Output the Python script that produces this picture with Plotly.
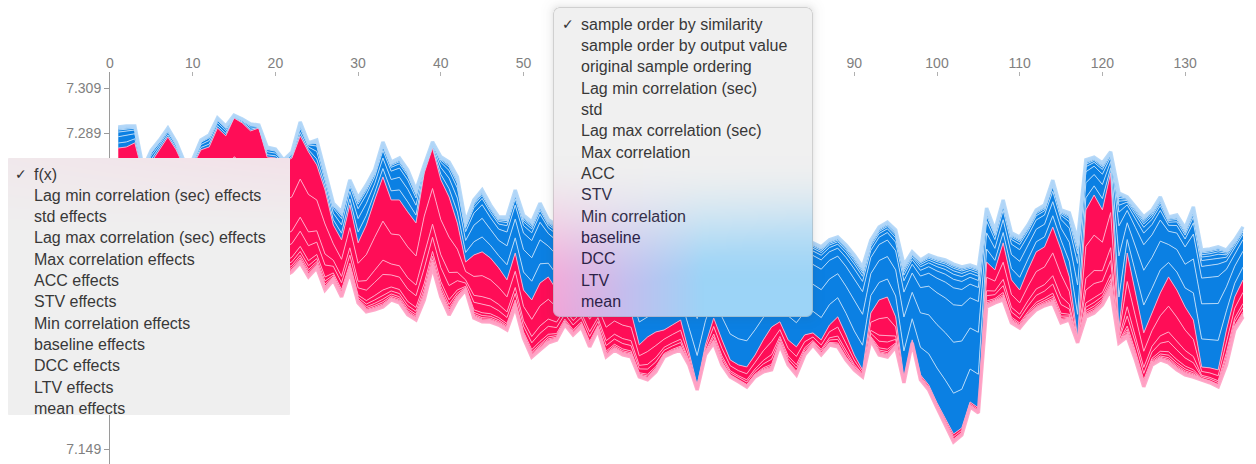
import base64
import struct
import zlib

import numpy as np
import plotly.graph_objects as go

# ---------------------------------------------------------------- data
# model output f(x) per sample, plus the summed negative (blue) and
# positive (red) SHAP effects that sit above / below it
samples = list(range(1, 138))

fx = [
    7.2824, 7.2829, 7.2847, 7.2705, 7.2762, 7.2816, 7.2873, 7.2816, 7.2736, 7.2745,
    7.2816, 7.2829, 7.2913, 7.2878, 7.2957, 7.2935, 7.2900, 7.2913, 7.2784, 7.2780,
    7.2758, 7.2780, 7.2878, 7.2807, 7.2749, 7.2638, 7.2483, 7.2417, 7.2572, 7.2404,
    7.2483, 7.2594, 7.2696, 7.2594, 7.2594, 7.2541, 7.2492, 7.2714, 7.2824, 7.2683,
    7.2607, 7.2492, 7.2319, 7.2350, 7.2364, 7.2337, 7.2293, 7.2240, 7.2359, 7.2195,
    7.2151, 7.2226, 7.2253, 7.2195, 7.2231, 7.2173, 7.2204, 7.2129, 7.2169, 7.2098,
    7.2124, 7.2107, 7.2098, 7.1952, 7.1987, 7.2009, 7.2018, 7.2040, 7.2062, 7.1921,
    7.1774, 7.1952, 7.2071, 7.1974, 7.1885, 7.1863, 7.1854, 7.1907, 7.1974, 7.2031,
    7.2054, 7.1974, 7.1943, 7.1996, 7.2005, 7.1974, 7.2040, 7.2076, 7.1996, 7.1907,
    7.1841, 7.2093, 7.2151, 7.2164, 7.2076, 7.1805, 7.1974, 7.1819, 7.1774, 7.1695,
    7.1628, 7.1557, 7.1584, 7.1699, 7.1673, 7.2319, 7.2284, 7.2404, 7.2240, 7.2195,
    7.2284, 7.2364, 7.2386, 7.2474, 7.2373, 7.2253, 7.1983, 7.2550, 7.2616, 7.2550,
    7.2714, 7.2018, 7.2359, 7.2182, 7.2005, 7.2093, 7.2182, 7.2253, 7.2195, 7.2120,
    7.2062, 7.1854, 7.1850, 7.1841, 7.2018, 7.2164, 7.2240,
]

neg_effects = [
    0.0093, 0.0093, 0.0075, 0.0031, 0.0053, 0.0044, 0.0040, 0.0035, 0.0027, 0.0027,
    0.0044, 0.0053, 0.0044, 0.0044, 0.0013, 0.0018, 0.0031, 0.0013, 0.0044, 0.0040,
    0.0013, 0.0027, 0.0062, 0.0040, 0.0111, 0.0075, 0.0097, 0.0124, 0.0111, 0.0199,
    0.0177, 0.0133, 0.0155, 0.0168, 0.0186, 0.0186, 0.0146, 0.0035, 0.0027, 0.0102,
    0.0155, 0.0204, 0.0177, 0.0244, 0.0275, 0.0235, 0.0226, 0.0279, 0.0279, 0.0332,
    0.0346, 0.0354, 0.0253, 0.0288, 0.0284, 0.0288, 0.0292, 0.0288, 0.0301, 0.0297,
    0.0301, 0.0292, 0.0310, 0.0421, 0.0363, 0.0372, 0.0372, 0.0377, 0.0390, 0.0452,
    0.0545, 0.0443, 0.0381, 0.0421, 0.0478, 0.0483, 0.0483, 0.0465, 0.0425, 0.0403,
    0.0399, 0.0443, 0.0447, 0.0421, 0.0399, 0.0412, 0.0377, 0.0354, 0.0399, 0.0443,
    0.0456, 0.0323, 0.0323, 0.0332, 0.0385, 0.0501, 0.0390, 0.0509, 0.0576, 0.0642,
    0.0700, 0.0753, 0.0713, 0.0607, 0.0620, 0.0239, 0.0177, 0.0190, 0.0208, 0.0235,
    0.0199, 0.0186, 0.0186, 0.0208, 0.0177, 0.0284, 0.0434, 0.0222, 0.0168, 0.0208,
    0.0093, 0.0607, 0.0248, 0.0381, 0.0514, 0.0456, 0.0425, 0.0266, 0.0332, 0.0350,
    0.0501, 0.0518, 0.0527, 0.0545, 0.0354, 0.0253, 0.0235,
]

pos_effects = [
    0.0474, 0.0456, 0.0452, 0.0399, 0.0434, 0.0443, 0.0456, 0.0443, 0.0452, 0.0452,
    0.0478, 0.0465, 0.0487, 0.0496, 0.0505, 0.0518, 0.0505, 0.0505, 0.0465, 0.0487,
    0.0505, 0.0505, 0.0563, 0.0554, 0.0456, 0.0443, 0.0244, 0.0253, 0.0297, 0.0266,
    0.0385, 0.0487, 0.0576, 0.0443, 0.0456, 0.0456, 0.0430, 0.0563, 0.0527, 0.0518,
    0.0523, 0.0341, 0.0124, 0.0279, 0.0310, 0.0284, 0.0253, 0.0222, 0.0239, 0.0213,
    0.0253, 0.0297, 0.0292, 0.0222, 0.0190, 0.0177, 0.0173, 0.0186, 0.0151, 0.0199,
    0.0195, 0.0199, 0.0199, 0.0142, 0.0190, 0.0177, 0.0120, 0.0124, 0.0133, 0.0058,
    0.0022, 0.0044, 0.0111, 0.0111, 0.0075, 0.0075, 0.0089, 0.0097, 0.0142, 0.0190,
    0.0102, 0.0111, 0.0124, 0.0089, 0.0053, 0.0066, 0.0089, 0.0133, 0.0111, 0.0066,
    0.0031, 0.0120, 0.0244, 0.0266, 0.0133, 0.0022, 0.0013, 0.0022, 0.0022, 0.0022,
    0.0031, 0.0035, 0.0031, 0.0022, 0.0022, 0.0199, 0.0146, 0.0253, 0.0190, 0.0168,
    0.0213, 0.0257, 0.0261, 0.0337, 0.0323, 0.0190, 0.0022, 0.0474, 0.0523, 0.0421,
    0.0518, 0.0058, 0.0372, 0.0297, 0.0239, 0.0230, 0.0297, 0.0381, 0.0354, 0.0301,
    0.0253, 0.0058, 0.0066, 0.0075, 0.0155, 0.0146, 0.0164,
]

# share of each effect band, ordered outward from f(x)
pos_band_share = [0.34, 0.30, 0.11, 0.12, 0.04, 0.03, 0.02, 0.015, 0.01, 0.01, 0.005]
neg_band_share = [0.24, 0.30, 0.22, 0.10, 0.05, 0.03, 0.02, 0.015, 0.01, 0.01, 0.005]

# tick labels left uncovered by the two open menus
y_ticks = [7.309, 7.289, 7.149]
x_ticks = [0, 10, 20, 30, 40, 50, 90, 100, 110, 120, 130]

effect_menu = [
    "f(x)", "Lag min correlation (sec) effects", "std effects",
    "Lag max correlation (sec) effects", "Max correlation effects", "ACC effects",
    "STV effects", "Min correlation effects", "baseline effects", "DCC effects",
    "LTV effects", "mean effects",
]
order_menu = [
    "sample order by similarity", "sample order by output value",
    "original sample ordering", "Lag min correlation (sec)", "std",
    "Lag max correlation (sec)", "Max correlation", "ACC", "STV",
    "Min correlation", "baseline", "DCC", "LTV", "mean",
]

# ---------------------------------------------------------------- layout
W, H = 1256, 464
ML, MR, MT, MB = 110, 0, 72, 0
PW, PH = W - ML - MR, H - MT - MB
PX_PER_SAMPLE = 8.27
Y_RANGE = [7.1424, 7.3161]

RED = "#ff0d57"
BLUE = "#0b80e3"
RED_LINE = "rgba(255,170,200,0.95)"
BLUE_LINE = "rgba(185,218,248,0.95)"

fx_a = np.array(fx)
pos_a = np.array(pos_effects)
neg_a = np.array(neg_effects)

fig = go.Figure()

# red bands: stacked from the lower edge up to f(x)
pos_cum = np.cumsum(pos_band_share)
red_levels = [fx_a - pos_a * c for c in pos_cum[::-1]] + [fx_a]
fig.add_trace(go.Scatter(x=samples, y=red_levels[0], mode="lines",
                         line=dict(color=RED_LINE, width=1), hoverinfo="skip"))
for lvl in red_levels[1:]:
    fig.add_trace(go.Scatter(x=samples, y=lvl, mode="lines", fill="tonexty",
                             fillcolor=RED, line=dict(color=RED_LINE, width=1),
                             hoverinfo="skip"))

# blue bands: stacked from f(x) up to the upper edge
neg_cum = np.cumsum(neg_band_share)
for c in neg_cum:
    fig.add_trace(go.Scatter(x=samples, y=fx_a + neg_a * c, mode="lines",
                             fill="tonexty", fillcolor=BLUE,
                             line=dict(color=BLUE_LINE, width=1), hoverinfo="skip"))

# soft outline on the outer edges
fig.add_trace(go.Scatter(x=samples, y=fx_a + neg_a, mode="lines",
                         line=dict(color="rgba(175,213,247,0.9)", width=3.5),
                         hoverinfo="skip"))
fig.add_trace(go.Scatter(x=samples, y=fx_a - pos_a, mode="lines",
                         line=dict(color="rgba(255,160,195,0.9)", width=3.5),
                         hoverinfo="skip"))

axis_font = dict(family="Liberation Sans, Arial, sans-serif", size=14, color="#808080")
fig.update_xaxes(range=[0, PW / PX_PER_SAMPLE], side="top", tickvals=x_ticks,
                 ticks="inside", ticklen=4, tickcolor="#b0b0b0", showline=False,
                 showgrid=False, zeroline=False, tickfont=axis_font)
fig.update_yaxes(range=Y_RANGE, tickvals=y_ticks,
                 ticktext=[f"{v:.3f}" for v in y_ticks], ticks="outside", ticklen=5,
                 tickcolor="#9a9a9a", showline=True, linecolor="#9a9a9a",
                 linewidth=1, showgrid=False, zeroline=False, tickfont=axis_font)


# ---------------------------------------------------------------- menus
def px_x(p):
    return (p - ML) / PW


def px_y(p):
    return 1 - (p - MT) / PH


def png_uri(rgba):
    h, w, _ = rgba.shape
    raw = b"".join(b"\x00" + rgba[r].tobytes() for r in range(h))

    def chunk(tag, data):
        body = tag + data
        return struct.pack(">I", len(data)) + body + struct.pack(">I", zlib.crc32(body) & 0xFFFFFFFF)

    png = (b"\x89PNG\r\n\x1a\n"
           + chunk(b"IHDR", struct.pack(">IIBBBBB", w, h, 8, 6, 0, 0, 0))
           + chunk(b"IDAT", zlib.compress(raw, 9))
           + chunk(b"IEND", b""))
    return "data:image/png;base64," + base64.b64encode(png).decode()


def panel(w, h, body_fn, radius, pad, shadow_alpha, border_alpha):
    Wt, Ht = w + 2 * pad, h + 2 * pad
    yy, xx = np.mgrid[0:Ht, 0:Wt].astype(float) + 0.5
    cx = np.clip(xx, pad + radius, pad + w - radius)
    cy = np.clip(yy, pad + radius, pad + h - radius)
    d = np.hypot(xx - cx, yy - cy) - radius
    inside = np.clip(0.5 - d, 0, 1)
    u = np.clip((xx - pad) / w, 0, 1)
    v = np.clip((yy - pad) / h, 0, 1)
    body = body_fn(u, v)
    edge = np.clip(1 - np.abs(d + 0.5), 0, 1)[..., None] * border_alpha
    body = body * (1 - edge) + np.array([150.0, 150.0, 150.0]) * edge
    sh = shadow_alpha * np.exp(-np.maximum(d, 0) / 4.0) * (d > 0)
    alpha = inside + (1 - inside) * sh
    rgb = np.where(alpha[..., None] > 0,
                   (body * inside[..., None] + np.array([60.0, 60.0, 60.0]) * ((1 - inside) * sh)[..., None])
                   / np.maximum(alpha, 1e-6)[..., None], 255)
    out = np.dstack([np.clip(rgb, 0, 255), np.clip(alpha * 255, 0, 255)]).astype(np.uint8)
    return png_uri(out)


def order_body(u, v):
    gray = np.array([240.0, 240.0, 240.0])
    pink = np.array([242.0, 165.0, 216.0])
    lav = np.array([196.0, 190.0, 238.0])
    sky = np.array([156.0, 212.0, 247.0])
    t1 = np.clip(u / 0.28, 0, 1)[..., None]
    t2 = np.clip((u - 0.28) / 0.3, 0, 1)[..., None]
    target = pink * (1 - t1) + lav * t1
    target = target * (1 - t2) + sky * t2
    s = np.clip((v - 0.48) / 0.42, 0, 1)
    s = (s * s * (3 - 2 * s))
    s = s * (0.75 + 0.25 * np.clip((v - 0.7) / 0.3 + u, 0, 1))
    s = s[..., None]
    return gray * (1 - s) + target * s


def effect_body(u, v):
    gray = np.array([239.0, 239.0, 239.0])
    tint = np.array([243.0, 226.0, 233.0])
    s = np.clip(1 - v / 0.28, 0, 1)[..., None] * (0.5 + 0.5 * u[..., None])
    return gray * (1 - s) + tint * s


menus = [
    # (left, top, width, height, body, radius, shadow pad, shadow alpha, border)
    (553, 7, 260, 310, order_body, 7, 12, 0.10, 0.35),
    (8, 158, 282, 257, effect_body, 1, 0, 0.0, 0.0),
]
images = []
for left, top, w, h, fn, rad, pad, sa, ba in menus:
    images.append(dict(
        source=panel(w, h, fn, rad, pad, sa, ba), xref="paper", yref="paper",
        x=px_x(left - pad), y=px_y(top - pad), sizex=(w + 2 * pad) / PW,
        sizey=(h + 2 * pad) / PH, xanchor="left", yanchor="top",
        sizing="stretch", layer="above"))

menu_font = "Liberation Sans, Arial, sans-serif"
annotations = []


def add_menu_text(items, text_x, check_x, first_y, step, colors):
    for k, label in enumerate(items):
        yk = first_y + step * k
        annotations.append(dict(
            text=label, x=px_x(text_x), y=px_y(yk), xref="paper", yref="paper",
            xanchor="left", yanchor="middle", showarrow=False,
            font=dict(family=menu_font, size=16, color=colors[k])))
    annotations.append(dict(
        text="✓", x=px_x(check_x), y=px_y(first_y), xref="paper", yref="paper",
        xanchor="left", yanchor="middle", showarrow=False,
        font=dict(family="DejaVu Sans, sans-serif", size=14, color="#333333")))


add_menu_text(effect_menu, 31.5, 13, 174, 21.3, ["#383838"] * len(effect_menu))
add_menu_text(order_menu, 578.5, 560, 24, 21.36,
              ["#383838"] * 8 + ["#34304a"] * 2 + ["#2c2348"] * 4)

fig.update_layout(
    width=W, height=H, margin=dict(l=ML, r=MR, t=MT, b=MB),
    plot_bgcolor="white", paper_bgcolor="white", showlegend=False,
    images=images, annotations=annotations, hovermode=False,
)

fig.write_html("out.html")
